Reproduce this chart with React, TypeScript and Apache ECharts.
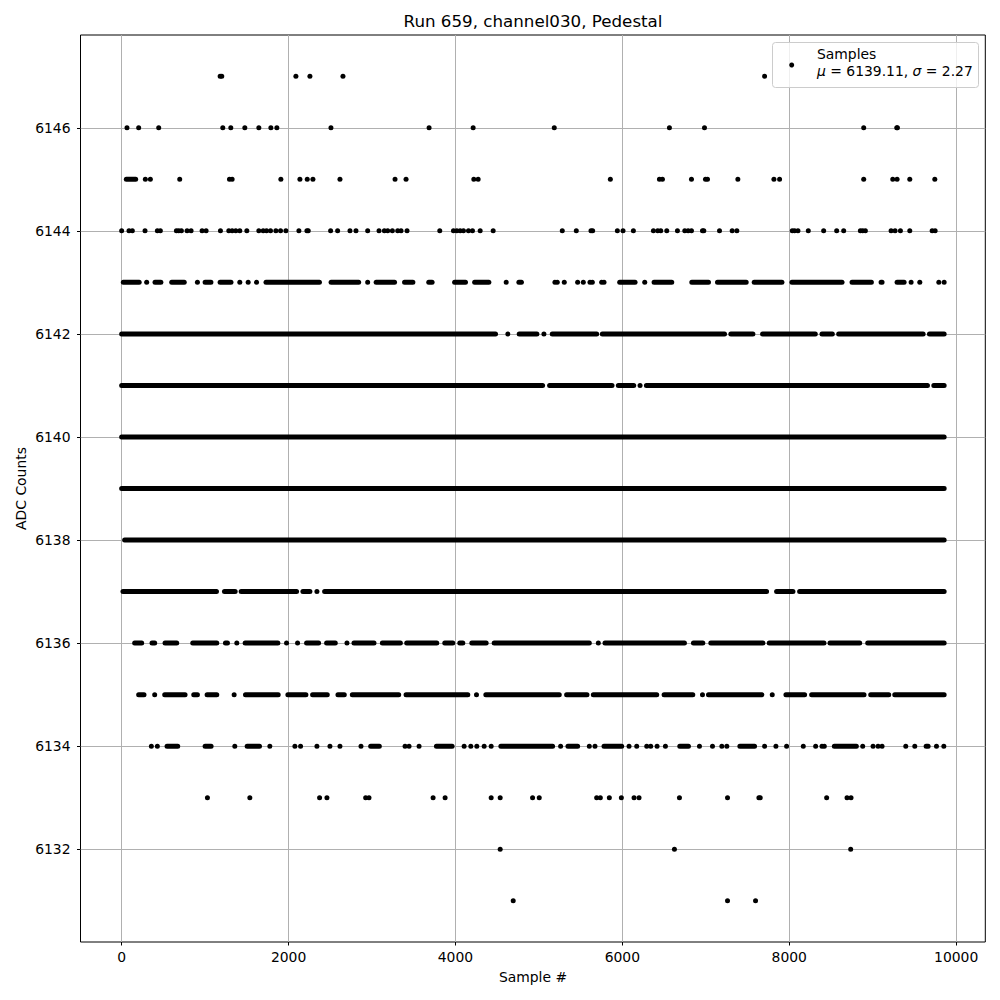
import React, { useEffect, useRef } from "react";
import * as echarts from "echarts";

// ---------- text ----------
const TITLE = "Run 659, channel030, Pedestal";
const X_LABEL = "Sample #";
const Y_LABEL = "ADC Counts";
const LEGEND_NAME = "Samples";
const MU = "6139.11";
const SIGMA = "2.27";

// ---------- axes ----------
const X_TICKS = [0, 2000, 4000, 6000, 8000, 10000];
const Y_TICKS = [6132, 6134, 6136, 6138, 6140, 6142, 6144, 6146];
const X_MIN = -493;
const X_MAX = 10349;
const Y_MIN = 6130.2;
const Y_MAX = 6147.8;

// ---------- data: sample numbers per ADC level ----------
// a number is a single sample; [a, b] is a run of consecutive samples from a to b
type Entry = number | [number, number];

const row6131: Entry[] = [4692, 7260, 7596];
const row6132: Entry[] = [4536, 6624, 8736];
const row6133: Entry[] = [1028, 1536, 2372, 2460, 2924, 2964, 3732, 3876, 4428, 4536, 4924, 5004, 5692, 5736, 5844, 5988, 6140, 6200, 6684, 7260, 7636, 7652, 8448, 8692, 8740];
const row6134: Entry[] = [356, 428, [544, 672], [1000, 1072], 1356, [1504, 1652], 1776, 2076, 2144, 2340, 2496, 2616, 2868, [2984, 3088], 3396, 3444, 3564, [3772, 3960], 4104, 4184, 4256, 4344, 4428, [4544, 5164], 5260, [5348, 5464], 5604, 5672, [5780, 5992], 6080, 6172, 6292, 6340, 6416, 6516, [6688, 6792], 6924, 7080, 7192, 7252, [7408, 7584], 7704, 7840, 7968, 8168, 8316, 8392, 8420, [8540, 8804], 8880, 9004, 9064, 9112, 9396, 9504, [9640, 9664], 9764, 9852];
const row6135: Entry[] = [[204, 268], 396, [516, 760], [864, 908], [1024, 1140], 1348, [1484, 1876], [1992, 2208], [2288, 2464], [2592, 2668], [2764, 3320], [3408, 4148], 4252, [4364, 5244], [5332, 5576], [5652, 6412], [6500, 6844], 6960, [7032, 7672], 7796, [7960, 8184], [8268, 8896], [8976, 9192], [9264, 9856]];
const row6136: Entry[] = [[156, 240], [364, 396], [520, 660], [852, 1140], [1244, 1268], 1380, [1480, 1872], 1976, 2108, [2216, 2360], [2456, 2560], 2700, [2784, 3024], [3124, 3340], [3416, 3776], [3872, 3968], [4052, 4088], [4196, 4368], [4464, 5604], 5712, [5792, 6744], [6852, 6964], [7060, 7684], [7760, 8416], [8488, 8844], [8940, 9856]];
const row6137: Entry[] = [[16, 1136], [1232, 1360], [1432, 2096], [2172, 2256], 2340, [2432, 7728], [7848, 8044], [8124, 9856]];
const row6138: Entry[] = [[36, 9856]];
const row6139: Entry[] = [[0, 9856]];
const row6140: Entry[] = [[0, 9856]];
const row6141: Entry[] = [[0, 5044], [5128, 5876], [5952, 6136], 6212, [6288, 9656], [9732, 9856]];
const row6142: Entry[] = [[0, 4480], 4628, [4764, 4976], 5060, [5160, 5692], [5760, 7224], [7300, 7564], [7680, 8312], [8392, 8516], [8592, 9604], [9680, 9856]];
const row6143: Entry[] = [[20, 210], 300, [400, 470], [600, 750], 908, [1000, 1070], [1180, 1310], 1416, 1516, 1616, [1730, 2370], [2510, 2840], 2948, [3050, 3270], [3390, 3490], [3680, 3720], [3990, 4120], [4230, 4400], 4608, [4760, 4790], 5192, 5220, 5304, 5464, 5532, 5612, 5640, 5752, 5780, [5968, 6152], 6268, [6380, 6592], [6832, 7032], [7140, 7484], [7580, 7912], [8032, 8632], [8752, 8984], [9100, 9112], [9292, 9376], 9460, 9564, 9792, 9856];
const row6144: Entry[] = [0, 88, 128, 280, 428, 464, 656, 684, 716, 784, 832, 964, 1012, 1184, 1284, 1324, 1368, 1416, 1500, 1644, 1696, 1736, 1784, 1848, 1904, 1968, 2124, 2220, 2236, 2504, 2588, 2736, 2808, 2948, 3084, 3148, 3188, 3244, 3308, 3348, 3420, 3812, 3976, 4016, 4056, 4096, 4156, 4204, 4296, 4452, 5280, 5448, 5624, 5644, 5940, 6008, 6132, 6372, 6424, 6460, 6532, 6660, 6748, 6788, 6828, 6960, 6976, 7164, 7316, 7372, 8036, 8064, 8104, 8228, 8412, 8568, 8652, 8852, 8880, 8912, 9220, 9268, 9332, 9444, 9712, 9748];
const row6145: Entry[] = [[56, 168], 284, 344, 696, 1292, 1324, 1908, 2136, 2224, 2292, 2616, 3276, 3408, 4220, 4272, 5856, 6444, 6480, 6828, 6996, 7020, 7384, 7816, 7884, 8892, 9240, 9292, 9444, 9744];
const row6146: Entry[] = [64, 204, 444, 1212, 1308, 1476, 1644, 1788, 1860, 2508, 3684, 4212, 5184, 6564, 6984, 8892, 9288, 9296];
const row6147: Entry[] = [1180, 1200, 2088, 2256, 2652, 7704];

const LEVELS: [number, Entry[]][] = [
  [6131, row6131], [6132, row6132], [6133, row6133], [6134, row6134],
  [6135, row6135], [6136, row6136], [6137, row6137], [6138, row6138],
  [6139, row6139], [6140, row6140], [6141, row6141], [6142, row6142],
  [6143, row6143], [6144, row6144], [6145, row6145], [6146, row6146],
  [6147, row6147],
];

const FONT = "DejaVu Sans";
const TICK_FS = 13.9;

export default function App() {
  const ref = useRef<HTMLDivElement>(null);

  useEffect(() => {
    if (!ref.current) return;
    const chart = echarts.init(ref.current, null, { renderer: "svg" });

    const sampleData: number[][] = [];
    LEVELS.forEach(([level, entries]) => {
      entries.forEach((e) => {
        if (Array.isArray(e)) sampleData.push([e[0], e[1], level]);
        else sampleData.push([e, e, level]);
      });
    });

    const R = 2.5;
    const plain = (v: number) => String(Math.round(v));

    const option: any = {
      animation: false,
      backgroundColor: "#ffffff",
      grid: {
        left: 80.5,
        right: 14.7,
        top: 35,
        bottom: 58,
        show: true,
        borderColor: "#000",
        borderWidth: 1,
        backgroundColor: "transparent",
      },
      xAxis: {
        type: "value",
        min: X_MIN,
        max: X_MAX,
        axisLine: { show: false, onZero: false },
        splitLine: { show: true, lineStyle: { color: "#b0b0b0", width: 1 } },
        axisTick: {
          show: true,
          customValues: X_TICKS,
          length: 3.5,
          inside: false,
          lineStyle: { color: "#000", width: 1 },
        },
        axisLabel: {
          customValues: X_TICKS,
          formatter: plain,
          color: "#000",
          fontFamily: FONT,
          fontSize: TICK_FS,
          margin: 8,
          hideOverlap: false,
        },
      },
      yAxis: {
        type: "value",
        min: Y_MIN,
        max: Y_MAX,
        axisLine: { show: false, onZero: false },
        splitLine: { show: true, lineStyle: { color: "#b0b0b0", width: 1 } },
        axisTick: {
          show: true,
          customValues: Y_TICKS,
          length: 3.5,
          inside: false,
          lineStyle: { color: "#000", width: 1 },
        },
        axisLabel: {
          customValues: Y_TICKS,
          formatter: plain,
          color: "#000",
          fontFamily: FONT,
          fontSize: TICK_FS,
          margin: 10,
          hideOverlap: false,
        },
      },
      series: [
        {
          name: LEGEND_NAME,
          type: "custom",
          silent: true,
          z: 3,
          data: sampleData,
          encode: { x: [0, 1], y: 2 },
          renderItem: (_params: any, api: any) => {
            const y = api.value(2);
            const p1 = api.coord([api.value(0), y]);
            const p2 = api.coord([api.value(1), y]);
            return {
              type: "rect",
              shape: {
                x: p1[0] - R,
                y: p1[1] - R,
                width: p2[0] - p1[0] + 2 * R,
                height: 2 * R,
                r: R,
              },
              style: { fill: "#000" },
            };
          },
        },
      ],
      graphic: [
        {
          type: "text",
          x: 533,
          y: 21.2,
          z: 10,
          style: {
            text: TITLE,
            fontFamily: FONT,
            fontSize: 16.7,
            fill: "#000",
            textAlign: "center",
            textVerticalAlign: "middle",
          },
        },
        {
          type: "text",
          x: 533,
          y: 977,
          z: 10,
          style: {
            text: X_LABEL,
            fontFamily: FONT,
            fontSize: TICK_FS,
            fill: "#000",
            textAlign: "center",
            textVerticalAlign: "middle",
          },
        },
        {
          type: "text",
          x: 20.5,
          y: 488.5,
          rotation: Math.PI / 2,
          z: 10,
          style: {
            text: Y_LABEL,
            fontFamily: FONT,
            fontSize: TICK_FS,
            fill: "#000",
            textAlign: "center",
            textVerticalAlign: "middle",
          },
        },
        {
          type: "group",
          z: 20,
          children: [
            {
              type: "rect",
              shape: { x: 772.5, y: 42.5, width: 206, height: 45, r: 3 },
              style: { fill: "rgba(255,255,255,0.8)", stroke: "#cccccc", lineWidth: 1 },
              z: 20,
            },
            {
              type: "circle",
              shape: { cx: 791.7, cy: 65, r: R },
              style: { fill: "#000" },
              z: 21,
            },
            {
              type: "text",
              x: 817,
              y: 53.7,
              z: 21,
              style: {
                text: LEGEND_NAME,
                fontFamily: FONT,
                fontSize: TICK_FS,
                fill: "#000",
                textAlign: "left",
                textVerticalAlign: "middle",
              },
            },
            {
              type: "text",
              x: 817,
              y: 70.8,
              z: 21,
              style: {
                text: `{i|μ} = ${MU}, {i|σ} = ${SIGMA}`,
                fontFamily: FONT,
                fontSize: TICK_FS,
                fill: "#000",
                textAlign: "left",
                textVerticalAlign: "middle",
                rich: {
                  i: { fontStyle: "italic", fontFamily: FONT, fontSize: TICK_FS, fill: "#000" },
                },
              },
            },
          ],
        },
      ],
    };

    chart.setOption(option);
    return () => chart.dispose();
  }, []);

  return (
    <div
      ref={ref}
      style={{ position: "fixed", left: 0, top: 0, width: 1000, height: 1000, background: "#fff" }}
    />
  );
}
